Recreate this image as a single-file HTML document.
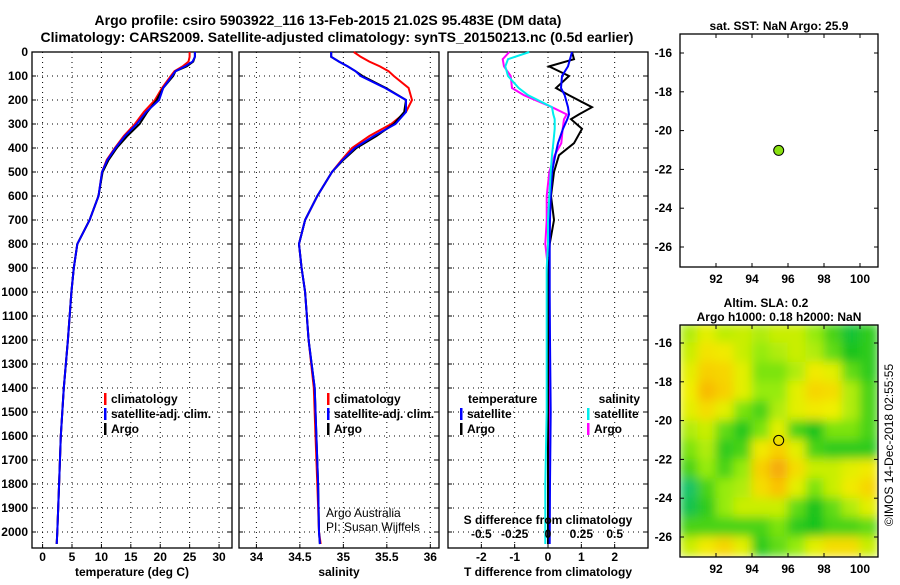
<!DOCTYPE html>
<html><head><meta charset="utf-8"><style>
body{margin:0;background:#fff;width:900px;height:580px;overflow:hidden}
svg text{font-family:"Liberation Sans",sans-serif;font-weight:bold;fill:#000}
</style></head><body>
<svg id="c" width="900" height="580" xmlns="http://www.w3.org/2000/svg">
<defs>
<filter id="blur" x="0" y="0" width="100%" height="100%"><feGaussianBlur stdDeviation="5" edgeMode="duplicate"/></filter>
<clipPath id="mapclip"><rect x="680" y="325" width="198" height="232"/></clipPath>
</defs>
<text x="328" y="25" font-size="14" text-anchor="middle">Argo profile: csiro 5903922_116 13-Feb-2015 21.02S 95.483E (DM data)</text>
<text x="337" y="42" font-size="14" text-anchor="middle">Climatology: CARS2009. Satellite-adjusted climatology: synTS_20150213.nc (0.5d earlier)</text>
</svg>
<script>
const depths=[0,20,40,60,80,100,150,200,250,300,350,400,450,500,600,700,800,900,1000,1200,1400,1600,1800,2000,2050];
const tempArgo=[25.9,25.9,25.6,24.5,22.6,22.2,20.5,19.4,17.8,16.5,14.4,12.6,11.2,10.2,9.5,8.0,5.9,5.3,4.9,4.3,3.6,3.1,2.8,2.5,2.4];
const tempClim=[25.0,25.0,24.8,23.8,22.4,21.8,20.3,19.1,17.2,15.7,13.8,12.3,10.9,10.1,9.5,8.0,5.9,5.3,4.9,4.3,3.6,3.1,2.8,2.5,2.4];
const tempSat=[25.9,25.9,25.5,24.2,22.6,22.0,20.5,19.8,17.6,16.0,14.0,12.4,11.0,10.1,9.5,8.0,5.9,5.3,4.9,4.3,3.6,3.1,2.8,2.5,2.4];
const salArgo=[34.86,34.86,34.95,35.05,35.14,35.22,35.49,35.72,35.70,35.58,35.38,35.15,35.0,34.87,34.70,34.56,34.49,34.52,34.56,34.60,34.67,34.69,34.71,34.72,34.73];
const salClim=[35.12,35.2,35.3,35.42,35.52,35.58,35.75,35.79,35.72,35.55,35.30,35.10,34.98,34.87,34.70,34.56,34.49,34.52,34.56,34.60,34.66,34.68,34.70,34.72,34.74];
const salSat=[34.86,34.86,34.95,35.05,35.14,35.20,35.48,35.72,35.72,35.60,35.35,35.13,34.99,34.87,34.70,34.56,34.49,34.52,34.56,34.60,34.67,34.69,34.71,34.72,34.73];
const dDepths=[0,30,60,100,150,180,230,260,280,320,380,430,500,600,700,800,900,1000,1200,1500,1800,2050];
const dTArgo=[0.72,0.78,0.03,0.63,0.24,0.63,1.32,0.93,0.69,1.02,0.78,0.33,0.18,0.09,0.18,0.05,0.02,0.0,0.0,0.0,0.0,0.0];
const dTSat=[0.72,0.66,0.6,0.42,0.39,0.5,0.6,0.63,0.58,0.45,0.3,0.22,0.12,0.08,0.06,0.05,0.05,0.05,0.06,0.08,0.06,0.05];
const dSArgo=[-0.29,-0.34,-0.33,-0.28,-0.27,-0.18,0.03,0.14,0.12,0.11,0.10,0.05,0.01,-0.01,-0.01,-0.02,0.0,0.0,0.0,0.01,0.0,0.0];
const dSSat=[-0.14,-0.3,-0.32,-0.3,-0.22,-0.15,0.03,0.04,0.05,0.05,0.04,0.03,0.02,0.01,0.0,0.0,-0.01,-0.01,-0.01,-0.01,-0.02,-0.02];
const depthTicks=[0,100,200,300,400,500,600,700,800,900,1000,1100,1200,1300,1400,1500,1600,1700,1800,1900,2000];
const tempTicks=[0,5,10,15,20,25,30];
const salTicks=[34,34.5,35,35.5,36];
const salTickLabels=["34","34.5","35","35.5","36"];
const dTTicks=[-2,-1,0,1,2];
const dSTicks=[-0.5,-0.25,0,0.25,0.5];
const dSTickLabels=["-0.5","-0.25","0","0.25","0.5"];
const lonTicks=[92,94,96,98,100];
const latTicks=[-16,-18,-20,-22,-24,-26];
const argoLon=95.483, argoLat=-21.02;
const gridLons=[90.5,91.5,92.5,93.5,94.5,95.5,96.5,97.5,98.5,99.5,100.5];
const gridLats=[-15.5,-16.5,-17.5,-18.5,-19.5,-20.5,-21.5,-22.5,-23.5,-24.5,-25.5,-26.5];
const sla=[
[0.1,0.3,0.15,0.2,0.1,0.2,0.2,0.0,-0.3,-0.6,-0.4],
[0.2,0.45,0.4,0.2,0.0,0.1,0.2,0.1,-0.2,-0.5,-0.4],
[0.3,0.6,0.55,0.3,-0.1,-0.1,0.1,0.4,0.3,-0.2,-0.4],
[0.35,0.75,0.6,0.3,0.0,0.0,0.3,0.55,0.5,0.1,-0.3],
[0.3,0.5,0.3,-0.1,-0.3,0.1,0.3,0.4,0.35,0.1,-0.3],
[0.1,0.2,-0.2,-0.45,-0.1,0.3,-0.3,-0.5,-0.1,-0.1,-0.3],
[-0.1,0.1,-0.4,-0.3,0.4,0.6,0.3,-0.3,-0.4,-0.4,-0.4],
[-0.3,0.0,-0.3,0.0,0.6,0.85,0.5,0.2,0.2,0.3,0.4],
[-0.8,-0.3,0.0,0.1,0.5,0.7,0.3,-0.1,0.2,0.4,0.55],
[-0.7,-0.4,0.0,0.2,0.2,0.2,-0.2,-0.5,-0.2,0.1,0.3],
[-0.3,-0.3,-0.3,-0.3,-0.3,-0.1,-0.4,-0.5,-0.3,-0.3,-0.2],
[0.2,0.4,0.55,0.3,-0.4,-0.2,0.0,0.3,0.5,0.5,0.2]];

const svg=document.getElementById('c');
const NS='http://www.w3.org/2000/svg';
function mk(tag,attrs,parent){const e=document.createElementNS(NS,tag);for(const k in attrs)e.setAttribute(k,attrs[k]);(parent||svg).appendChild(e);return e;}
function txt(x,y,s,size,anchor,parent){const t=mk('text',{x:x,y:y,'font-size':size,'text-anchor':anchor||'middle'},parent);t.textContent=s;return t;}
const yTop=52, pxPerM=0.24, yBot=548;
const yD=d=>yTop+d*pxPerM;

function panel(name,x0,x1,vmin,vmax){
  const g=mk('g',{});
  
  
  const sx=v=>x0+(v-vmin)/(vmax-vmin)*(x1-x0);
  return {g,sx,x0,x1};
}
function frame(p,xt,xlabels,xlabel,gridX){
  const {g,sx,x0,x1}=p;
  depthTicks.forEach(d=>{ if(d>0){const l=mk('line',{x1:x0,x2:x1,y1:yD(d),y2:yD(d),stroke:'#000','stroke-width':1,'stroke-dasharray':'1,4'},g);
    }
    mk('line',{x1:x0,x2:x0+4,y1:yD(d),y2:yD(d),stroke:'#000'},g);mk('line',{x1:x1-4,x2:x1,y1:yD(d),y2:yD(d),stroke:'#000'},g);});
  (gridX||xt).forEach(v=>{const l=mk('line',{x1:sx(v),x2:sx(v),y1:yTop,y2:yBot,stroke:'#000','stroke-dasharray':'1,4'},g);
    
    mk('line',{x1:sx(v),x2:sx(v),y1:yBot-4,y2:yBot,stroke:'#000'},g);});
  xt.forEach((v,i)=>{const t=txt(sx(v),561,xlabels[i],12,'middle',g);});
  const xl=txt((x0+x1)/2,576,xlabel,12,'middle',g);
  
  const r=mk('rect',{x:x0,y:yTop,width:x1-x0,height:yBot-yTop,fill:'none',stroke:'#000','stroke-width':1.3},g);
  
}
function line(p,xs,ds,color,name,w){
  const pts=xs.map((v,i)=>p.sx(v).toFixed(1)+','+yD(ds[i]).toFixed(1)).join(' ');
  const l=mk('polyline',{points:pts,fill:'none',stroke:color,'stroke-width':w||2},p.g);
  
  
}
function legend(p,x,y,items,size){
  items.forEach((it,i)=>{const yy=y+i*15;
    mk('rect',{x:x,y:yy-10,width:2.5,height:12,fill:it[1]},p.g);
    const t=txt(x+7,yy,it[0],size||12,'start',p.g);
    });
}
depthTicks.forEach(d=>{const t=txt(28,yD(d)+4,String(d),12,'end');});

const p1=panel('temperature-panel',32,232,-1.8,32.2);
frame(p1,tempTicks,tempTicks.map(String),'temperature (deg C)');
line(p1,tempClim,depths,'#f00','climatology-temp-line');
line(p1,tempArgo,depths,'#000','argo-temp-line');
line(p1,tempSat,depths,'#00f','satellite-temp-line');
legend(p1,104,403,[['climatology','#f00'],['satellite-adj. clim.','#00f'],['Argo','#000']]);

const p2=panel('salinity-panel',239,439,33.8,36.1);
frame(p2,salTicks,salTickLabels,'salinity');
line(p2,salClim,depths,'#f00','climatology-salinity-line');
line(p2,salArgo,depths,'#000','argo-salinity-line');
line(p2,salSat,depths,'#00f','satellite-salinity-line');
legend(p2,327,403,[['climatology','#f00'],['satellite-adj. clim.','#00f'],['Argo','#000']]);
const n1=mk('text',{x:326,y:517,'font-size':12,'text-anchor':'start',style:'font-weight:normal'},p2.g);n1.textContent='Argo Australia';

const n2=mk('text',{x:326,y:531,'font-size':12,'text-anchor':'start',style:'font-weight:normal'},p2.g);n2.textContent='PI: Susan Wijffels';


const p3=panel('difference-panel',448,648,-3,3);
frame(p3,dTTicks,dTTicks.map(String),'T difference from climatology');
const sxS=v=>p3.sx(v*4);
line(p3,dSArgo.map(v=>v*4),dDepths,'#f0f','argo-salinity-diff-line');
line(p3,dTArgo,dDepths,'#000','argo-temp-diff-line');
line(p3,dTSat,dDepths,'#00f','satellite-temp-diff-line');
line(p3,dSSat.map(v=>v*4),dDepths,'#0ee','satellite-salinity-diff-line');
txt(468,403,'temperature',12,'start',p3.g);
legend(p3,460,418,[['satellite','#00f'],['Argo','#000']]);
txt(640,403,'salinity',12,'end',p3.g);
legend(p3,587,418,[['satellite','#0ee'],['Argo','#f0f']]);
const st=txt(548,524,'S difference from climatology',12,'middle',p3.g);

dSTicks.forEach((v,i)=>{const t=txt(sxS(v),538,dSTickLabels[i],12,'middle',p3.g);});

const mx0=680,mx1=878;
const sLon=v=>mx0+(v-90)*18;
function colorFor(v){
  const stops=[[-1,[20,195,150]],[-0.5,[20,195,30]],[0,[150,235,10]],[0.35,[240,240,0]],[0.7,[250,195,0]],[1,[240,145,20]]];
  v=Math.max(-1,Math.min(1,v));
  for(let i=0;i<stops.length-1;i++){const a=stops[i],b=stops[i+1];if(v<=b[0]){const t=(v-a[0])/(b[0]-a[0]);
    return 'rgb('+a[1].map((c,j)=>Math.round(c+(b[1][j]-c)*t)).join(',')+')';}}
  return 'rgb(240,145,20)';
}
function map(name,y0,y1,lat16y,title,filled){
  const g=mk('g',{});
  
  
  const sLat=v=>lat16y+(-16-v)*19.4;
  if(!filled){
    const cg=mk('g',{'clip-path':'url(#mapclip)'},g);
    const bg=mk('g',{filter:'url(#blur)'},cg);
    gridLats.forEach((la,r)=>gridLons.forEach((lo,c)=>{
      const cell=mk('rect',{x:sLon(lo-0.5)-0.5,y:sLat(la+0.5)-0.5,width:19,height:20.4,fill:colorFor(sla[r][c])},bg);
      
      
    }));
  }
  lonTicks.forEach(v=>{mk('line',{x1:sLon(v),x2:sLon(v),y1:y0,y2:y0+4,stroke:'#000'},g);mk('line',{x1:sLon(v),x2:sLon(v),y1:y1-4,y2:y1,stroke:'#000'},g);
    const t=txt(sLon(v),y1+16,String(v),12,'middle',g);});
  latTicks.forEach(v=>{mk('line',{x1:mx1,x2:mx1-4,y1:sLat(v),y2:sLat(v),stroke:'#000'},g);mk('line',{x1:mx0,x2:mx0+4,y1:sLat(v),y2:sLat(v),stroke:'#000'},g);
    const t=txt(672,sLat(v)+4,String(v),12,'end',g);});
  const fr=mk('rect',{x:mx0,y:y0,width:mx1-mx0,height:y1-y0,fill:'none',stroke:'#000','stroke-width':1.3},g);
  
  const m=mk('circle',{cx:sLon(argoLon),cy:sLat(argoLat),r:5,fill:filled?'#88e010':'none',stroke:'#000','stroke-width':1},g);
  
  title.forEach((s,i)=>{const t=txt(title.length>1&&i==0?766:779,y0-(title.length-i)*14+10,s,12,'middle',g);
    });
}
map('sst-map',34,267,53,['sat. SST: NaN Argo: 25.9'],true);
map('sla-map',325,557,343,['Altim. SLA: 0.2','Argo h1000: 0.18 h2000: NaN'],false);
const cr=mk('text',{x:0,y:0,'font-size':12,'text-anchor':'middle',style:'font-weight:normal',transform:'translate(893,445) rotate(-90)'});
cr.textContent='©IMOS 14-Dec-2018 02:55:55';

</script>
</body></html>
